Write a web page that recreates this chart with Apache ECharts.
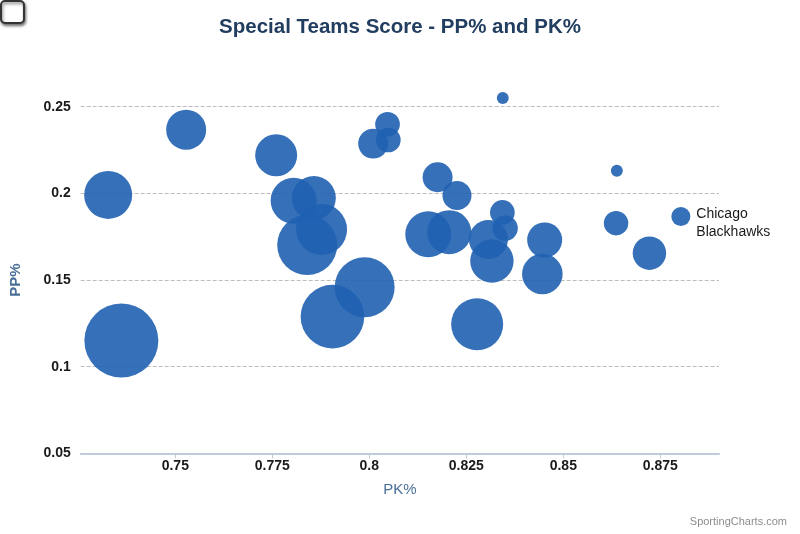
<!DOCTYPE html>
<html>
<head>
<meta charset="utf-8">
<script src="https://cdn.jsdelivr.net/npm/echarts@6/dist/echarts.min.js"></script>
<style>
html,body{margin:0;padding:0;background:#fff;}
#chart{width:800px;height:534px;}
</style>
</head>
<body>
<div id="chart"></div>
<script>
// PK% (x), PP% (y), bubble size value (z)
const pk = [0.7327, 0.7528, 0.7760, 0.7361, 0.7805, 0.7857, 0.7877, 0.7840, 0.7988, 0.7905,
            0.8047, 0.8010, 0.8049, 0.8344, 0.8176, 0.8226, 0.8152, 0.8206, 0.8343, 0.8350,
            0.8307, 0.8316, 0.8452, 0.8446, 0.8278, 0.8638, 0.8636, 0.8722, 0.8803];
const pp = [0.1991, 0.2367, 0.2220, 0.1151, 0.1958, 0.1973, 0.1792, 0.1702, 0.1458, 0.1289,
            0.2399, 0.2287, 0.2308, 0.2550, 0.2093, 0.1988, 0.1764, 0.1776, 0.1890, 0.1799,
            0.1734, 0.1610, 0.1731, 0.1535, 0.1245, 0.2131, 0.1828, 0.1655, 0.1867];
const z  = [42.1, 29.2, 32.2, 100, 38.6, 35.4, 47.5, 65.7, 65.7, 73.9,
            11.1, 16.4, 11.1, 2.6, 16.4, 15.4, 38.6, 35.4, 11.1, 11.8,
            27.8, 34.4, 22.4, 30.1, 49.4, 2.6, 10.9, 20.4, 6.6];
const teams = ['', '', '', '', '', '', '', '', '', '',
               '', '', '', '', '', '', '', '', '', '',
               '', '', '', '', '', '', '', '', 'Chicago Blackhawks'];
const labelledTeam = 'Chicago Blackhawks';
const xTicks = [0.75, 0.775, 0.8, 0.825, 0.85, 0.875];
const yTicks = [0.05, 0.1, 0.15, 0.2, 0.25];

const chart = echarts.init(document.getElementById('chart'));
const font = 'Liberation Sans, Arial, sans-serif';
const data = pk.map((x, i) => {
  const item = { value: [x, pp[i], z[i]], name: teams[i] };
  if (teams[i] === labelledTeam) {
    item.label = {
      show: true, position: 'right', distance: 6, offset: [0, 7],
      formatter: labelledTeam.replace(' ', '\n'),
      color: '#000', fontSize: 14, lineHeight: 18, fontFamily: font
    };
  }
  return item;
});

chart.setOption({
  animation: false,
  backgroundColor: '#fff',
  title: {
    text: 'Special Teams Score - PP% and PK%',
    left: 'center', top: 12,
    textStyle: { color: '#213d60', fontSize: 20.5, fontWeight: 'bold', fontFamily: font }
  },
  grid: { left: 80.7, right: 81, top: 106.7, bottom: 80.6, containLabel: false },
  xAxis: {
    type: 'value',
    min: 0.72562, max: 0.89013,
    name: 'PK%', nameLocation: 'middle', nameGap: 29,
    nameTextStyle: { color: '#4a6f98', fontSize: 15, fontFamily: font },
    axisLine: { show: true, lineStyle: { color: '#c0ccda', width: 2 } },
    axisTick: { show: true, customValues: xTicks, length: 5, lineStyle: { color: '#c0ccda', width: 1 } },
    axisLabel: {
      customValues: xTicks, margin: 6,
      formatter: v => String(+(+v).toFixed(3)),
      color: '#1a1a1a', fontSize: 14, fontWeight: 'bold', fontFamily: font
    },
    splitLine: { show: false }
  },
  yAxis: {
    type: 'value',
    min: 0.05, max: 0.25, interval: 0.05,
    name: 'PP%', nameLocation: 'middle', nameGap: 57, nameRotate: 90,
    nameTextStyle: { color: '#4a6f98', fontSize: 15, fontWeight: 'bold', fontFamily: font },
    axisLine: { show: false },
    axisTick: { show: false },
    axisLabel: {
      margin: 10,
      formatter: v => String(+(+v).toFixed(3)),
      color: '#1a1a1a', fontSize: 14, fontWeight: 'bold', fontFamily: font
    },
    splitLine: { show: true, lineStyle: { color: '#bdbdbd', type: [4, 2], width: 1 } }
  },
  graphic: [
    {
      type: 'rect',
      shape: { x: 1, y: 1, width: 23, height: 22, r: 4 },
      style: { fill: '#fff', stroke: '#333', lineWidth: 2,
               shadowBlur: 3, shadowColor: 'rgba(0,0,0,0.5)', shadowOffsetX: 1, shadowOffsetY: 2 }
    },
    {
      type: 'text', right: 13, bottom: 7,
      style: { text: 'SportingCharts.com', fill: '#8c8c8c', fontSize: 11, fontFamily: font }
    }
  ],
  series: [{
    type: 'scatter',
    clip: false,
    data: data,
    symbolSize: v => 74 * Math.sqrt(v[2] / 100),
    itemStyle: { color: '#1f60b1', opacity: 0.9 },
    emphasis: { disabled: true }
  }]
});
</script>
</body>
</html>
